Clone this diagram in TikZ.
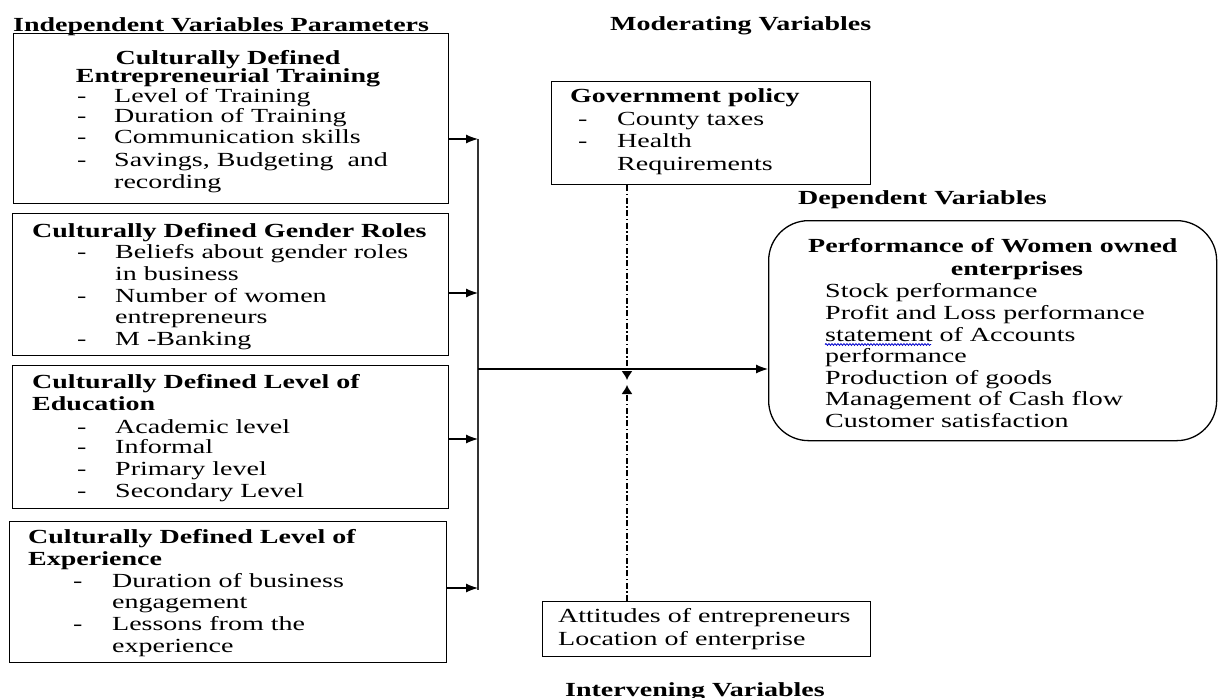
\documentclass[tikz,border=0pt]{standalone}
\usepackage{fontspec}
\setmainfont{Liberation Serif}[FakeStretch=1.4]
\usetikzlibrary{arrows.meta,decorations.pathmorphing}
\begin{document}
\begin{tikzpicture}[x=1pt,y=-1pt,font=\fontsize{20}{22}\selectfont,
  box/.style={draw,line width=1.3pt,inner sep=0pt,anchor=north west},
  t/.style={anchor=base west,inner sep=0pt},
  tc/.style={anchor=base,inner sep=0pt},
  tight/.style={text height=14pt,text depth=2pt},
  arr/.style={line width=1.2pt,-{Latex[length=12pt,width=9pt]}},
  dd/.style={line width=1.3pt,dash pattern=on 6pt off 2.5pt on 1.5pt off 2.5pt,-{Latex[length=9pt,width=11pt]}}]
\useasboundingbox (0,0) rectangle (1218,698);
\newcommand{\dsh}[1]{\makebox[#1][l]{-}}
% titles
\node[t] (tind) at (13,32) {\bfseries Independent Variables Parameters};
\node[t] (tmod) at (610,31) {\bfseries Moderating Variables};
\node[t] (tdep) at (798,204) {\bfseries Dependent Variables};
\node[t] (tint) at (565,696) {\bfseries Intervening Variables};
% boxes
\node[box,minimum width=435pt,minimum height=170pt] (b1) at (13,33) {};
\node[box,minimum width=436pt,minimum height=142pt] (b2) at (12,213) {};
\node[box,minimum width=436pt,minimum height=143pt] (b3) at (12,365) {};
\node[box,minimum width=437pt,minimum height=141pt] (b4) at (9,521) {};
\node[box,minimum width=319pt,minimum height=103pt] (gov) at (551,81) {};
\node[box,minimum width=448pt,minimum height=220pt,rounded corners=40pt] (dep) at (768,220) {};
\node[box,minimum width=328pt,minimum height=55pt] (intv) at (542,601) {};
% box 1
\node[tc,tight] (b1h1) at (228,65) {\bfseries Culturally Defined};
\node[tc,tight] (b1h2) at (228,83) {\bfseries Entrepreneurial Training};
\node[t] (b1a) at (77,103) {\dsh{37pt}Level of Training};
\node[t] (b1b) at (77,123) {\dsh{37pt}Duration of Training};
\node[t] (b1c) at (77,144) {\dsh{37pt}Communication  skills};
\node[t] (b1d) at (77,166) {\dsh{37pt}Savings, Budgeting \ and};
\node[t] (b1e) at (114,188) {recording};
% box 2
\node[t] (b2h) at (32,237) {\bfseries Culturally Defined Gender Roles};
\node[t] (b2a) at (77,258) {\dsh{38pt}Beliefs about gender roles};
\node[t] (b2b) at (115,280) {in business};
\node[t] (b2c) at (77,302) {\dsh{38pt}Number of women};
\node[t] (b2d) at (115,323) {entrepreneurs};
\node[t] (b2e) at (77,345) {\dsh{38pt}M -Banking};
% box 3
\node[t] (b3h1) at (32,388) {\bfseries Culturally Defined Level of};
\node[t] (b3h2) at (32,410) {\bfseries Education};
\node[t] (b3a) at (77,433) {\dsh{38pt}Academic  level};
\node[t] (b3b) at (77,453) {\dsh{38pt}Informal};
\node[t] (b3c) at (77,475) {\dsh{38pt}Primary level};
\node[t] (b3d) at (77,497) {\dsh{38pt}Secondary Level};
% box 4
\node[t] (b4h1) at (28,543) {\bfseries Culturally Defined Level of};
\node[t] (b4h2) at (28,565) {\bfseries Experience};
\node[t] (b4a) at (73,587) {\dsh{39pt}Duration of business};
\node[t] (b4b) at (112,608) {engagement};
\node[t] (b4c) at (73,630) {\dsh{39pt}Lessons from the};
\node[t] (b4d) at (112,652) {experience};
% government
\node[t] (gh) at (570,103) {\bfseries Government policy};
\node[t] (ga) at (578,126) {\dsh{39pt}County taxes};
\node[t] (gb) at (578,148) {\dsh{39pt}Health};
\node[t] (gc) at (617,170) {Requirements};
% dependent
\node[t] (dh1) at (808,252) {\bfseries Performance  of Women owned};
\node[tc] (dh2) at (1017,275) {\bfseries enterprises};
\node[t] (da) at (825,297) {Stock performance};
\node[t] (db) at (825,319) {Profit and Loss performance};
\node[t] (dc) at (825,341) {statement  of Accounts};
\node[t] (dd) at (825,362) {performance};
\node[t] (de) at (825,384) {Production  of goods};
\node[t] (df) at (825,405) {Management  of Cash flow};
\node[t] (dg) at (825,427) {Customer  satisfaction};
\draw[blue!80!black,line width=0.8pt,decorate,decoration={snake,amplitude=0.9pt,segment length=3pt}] (dc.base west)++(0,3.5) -- ++(106,0);
% intervening
\node[t] (ia) at (558,622) {Attitudes  of entrepreneurs};
\node[t] (ib) at (558,645) {Location  of enterprise};
% connectors
\coordinate (j1) at (478,139);
\coordinate (j2) at (478,293);
\coordinate (j3) at (478,439);
\coordinate (j4) at (478,588);
\coordinate (jb) at (478,590);
\coordinate (jm) at (478,369);
\coordinate (mt) at (627,380);
\coordinate (mb) at (627,385);
\draw[line width=1.8pt,black!80] (j1) -- (jb);
\draw[arr] (b1.east |- j1) -- (j1);
\draw[arr] (b2.east |- j2) -- (j2);
\draw[arr] (b3.east |- j3) -- (j3);
\draw[arr] (b4.east |- j4) -- (j4);
\draw[arr] (jm) -- (dep.west |- jm);
\draw[dd] (gov.south -| mt) -- (mt);
\draw[dd] (intv.north -| mb) -- (mb);
\end{tikzpicture}
\end{document}
